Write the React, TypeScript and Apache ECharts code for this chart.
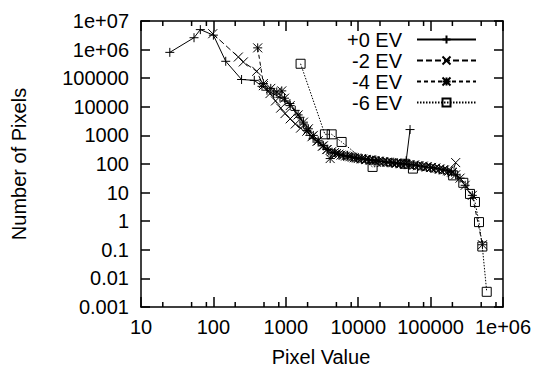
import React, { useEffect, useRef } from "react";
import * as echarts from "echarts";

const seriesNames = ["+0 EV", "-2 EV", "-4 EV", "-6 EV"];

const ev0: [number, number][] = [
  [25, 8.0e5], [54, 2.6e6], [66, 5.0e6], [100, 3.2e6], [148, 3.9e5], [245, 9.0e4], [367, 8.4e4],
  [469, 5.2e4], [550, 3.8e4], [680, 2.8e4], [830, 2.15e4], [980, 1.6e4], [1140, 1.3e4], [1350, 7500],
  [1570, 4300], [1750, 2500], [1950, 1500], [2150, 1000], [2380, 790], [2800, 580], [3270, 450],
  [3800, 330], [4350, 260], [4900, 235], [5600, 210], [6300, 195], [7100, 200], [8000, 175],
  [9000, 170], [10000, 160], [11200, 150], [12500, 155], [14000, 140], [15800, 135], [17500, 138],
  [19500, 125], [22000, 122], [24500, 118], [27500, 112], [31000, 115], [35000, 108], [39000, 104],
  [43000, 100], [46000, 130], [52000, 1600],
];

const evMinus2: [number, number][] = [
  [98, 3.6e6], [221, 5.5e5], [259, 3.7e5], [396, 1.75e5], [490, 5.5e4], [605, 2.9e4], [720, 1.6e4],
  [850, 9000], [975, 5800], [1150, 3800], [1350, 2500], [1600, 1800], [1950, 1400], [2300, 900],
  [2700, 620], [3200, 420], [3700, 320], [4300, 270], [5000, 230], [5800, 205], [6700, 190],
  [7700, 180], [8800, 165], [10000, 155], [11500, 150], [13000, 142], [15000, 135], [17000, 130],
  [19500, 124], [22500, 120], [26000, 114], [30000, 110], [34000, 106], [39000, 102], [45000, 98],
  [52000, 95], [60000, 92], [69000, 88], [79000, 84], [90000, 80], [103000, 76], [118000, 72],
  [135000, 66], [155000, 62], [178000, 56], [200000, 50], [222000, 112],
];

const evMinus4: [number, number][] = [
  [409, 1.15e6], [490, 6.5e4], [620, 4.4e4], [750, 3.3e4], [880, 3.6e4], [960, 2.0e4], [1150, 1.1e4],
  [1480, 5200], [1750, 2900], [2050, 1700], [2400, 1000], [2800, 650], [3300, 430], [3700, 320],
  [4100, 155], [4700, 250], [5400, 220], [6200, 200], [7200, 185], [8300, 172], [9500, 162],
  [11000, 152], [12700, 145], [14500, 138], [16500, 132], [19000, 127], [22000, 121], [25000, 116],
  [29000, 112], [33000, 107], [38000, 103], [44000, 99], [50000, 95], [58000, 91], [66000, 87],
  [76000, 83], [87000, 79], [100000, 75], [115000, 71], [132000, 67], [150000, 63], [172000, 58],
  [195000, 52], [222000, 42], [255000, 32], [300000, 18], [377000, 8], [520000, 0.15],
];

const evMinus6: [number, number][] = [
  [1600, 3.2e5], [3470, 1090], [4300, 1090], [5900, 590], [15800, 79], [44000, 102], [57000, 69],
  [205000, 40], [283000, 22], [350000, 9], [410000, 4.7], [466000, 0.93], [518000, 0.13], [596000, 0.0034],
];

const xTickLabels = ["10", "100", "1000", "10000", "100000", "1e+06"]; // exponents 1..6
const yTickLabels = ["0.001", "0.01", "0.1", "1", "10", "100", "1000", "10000", "100000", "1e+06", "1e+07"]; // exponents -3..7
const xMinorTicks = [20, 50, 80, 200, 500, 800, 2000, 5000, 8000, 20000, 50000, 80000, 200000, 500000, 800000];

const X_MIN = 10;
const X_MAX = 1e6;
const Y_MIN = 0.001;
const Y_MAX = 1e7;

const FONT = "'Liberation Sans', Arial, sans-serif";

const SYM_PLUS = "path://M5,0 L5,10 M0,5 L10,5";
const SYM_CROSS = "path://M0,0 L10,10 M10,0 L0,10";
const SYM_STAR = "path://M5,0 L5,10 M0,5 L10,5 M0,0 L10,10 M10,0 L0,10";
const SYM_SQUARE = "path://M0,0 L10,0 L10,10 L0,10 Z";

export default function App() {
  const ref = useRef<HTMLDivElement>(null);
  useEffect(() => {
    if (!ref.current) return;
    const chart = echarts.init(ref.current, null, { renderer: "svg" });
    const axisLine = { show: true, lineStyle: { color: "#000", width: 1.5 } };
    const xFmt = (v: number) => xTickLabels[Math.round(Math.log10(v)) - 1] ?? "";
    const yFmt = (v: number) => yTickLabels[Math.round(Math.log10(v)) + 3] ?? "";
    const mk = (name: string, data: [number, number][], symbol: string, dash: any, fill: string, z: number) => ({
      name,
      type: "line",
      data,
      symbol,
      symbolSize: 9,
      showSymbol: true,
      showAllSymbol: true,
      z,
      lineStyle: { color: "#000", width: 1, type: dash },
      itemStyle: { color: fill, borderColor: "#000", borderWidth: 1 },
      emphasis: { disabled: true },
    });
    chart.setOption({
      animation: false,
      grid: { left: 141, right: 33, top: 21, bottom: 61, containLabel: false },
      xAxis: [
        {
          type: "log", logBase: 10, min: X_MIN, max: X_MAX, interval: 1, position: "bottom",
          axisLine, axisTick: { inside: true, length: 10, lineStyle: { color: "#000", width: 1.5 } },
          axisLabel: { formatter: xFmt, color: "#000", fontSize: 20, fontFamily: FONT, margin: 10 },
          splitLine: { show: false }, minorTick: { show: false },
        },
        {
          type: "log", logBase: 10, min: X_MIN, max: X_MAX, interval: 1, position: "top",
          axisLine, axisTick: { inside: true, length: 10, lineStyle: { color: "#000", width: 1.5 } },
          axisLabel: { show: false }, splitLine: { show: false },
        },
      ],
      yAxis: [
        {
          type: "log", logBase: 10, min: Y_MIN, max: Y_MAX, interval: 1, position: "left",
          axisLine, axisTick: { inside: true, length: 9, lineStyle: { color: "#000", width: 1.5 } },
          axisLabel: { formatter: yFmt, color: "#000", fontSize: 20, fontFamily: FONT, margin: 12 },
          splitLine: { show: false },
        },
        {
          type: "log", logBase: 10, min: Y_MIN, max: Y_MAX, interval: 1, position: "right",
          axisLine, axisTick: { inside: true, length: 9, lineStyle: { color: "#000", width: 1.5 } },
          axisLabel: { show: false }, splitLine: { show: false },
        },
      ],
      legend: {
        data: seriesNames,
        orient: "vertical",
        right: 59,
        top: 29,
        padding: 0,
        align: "right",
        itemWidth: 59,
        itemHeight: 10,
        itemGap: 0,
        selectedMode: false,
        textStyle: { fontSize: 20, fontFamily: FONT, color: "#000", lineHeight: 21, padding: [0, 10, 0, 0] },
      },
      graphic: [
        {
          type: "text", x: 19, y: 164, rotation: Math.PI / 2,
          style: { text: "Number of Pixels", fontSize: 20, fontFamily: FONT, fill: "#000", align: "center", verticalAlign: "middle" },
        },
        {
          type: "text", x: 321, y: 357,
          style: { text: "Pixel Value", fontSize: 20, fontFamily: FONT, fill: "#000", align: "center", verticalAlign: "middle" },
        },
      ],
      series: [
        mk(seriesNames[0], ev0, SYM_PLUS, "solid", "#000", 2),
        mk(seriesNames[1], evMinus2, SYM_CROSS, [6, 3], "#000", 3),
        mk(seriesNames[2], evMinus4, SYM_STAR, [4, 3], "#000", 4),
        mk(seriesNames[3], evMinus6, SYM_SQUARE, [1.5, 1.5], "none", 5),
        {
          type: "custom",
          name: "minor",
          silent: true,
          clip: false,
          data: xMinorTicks.map((v) => [v, Y_MIN]),
          encode: { x: 0, y: 1 },
          renderItem: (_p: any, api: any) => {
            const v = api.value(0);
            const b = api.coord([v, Y_MIN]);
            const t = api.coord([v, Y_MAX]);
            return {
              type: "group",
              children: [
                { type: "line", shape: { x1: b[0], y1: b[1], x2: b[0], y2: b[1] - 5 }, style: { stroke: "#000", lineWidth: 1.5 } },
                { type: "line", shape: { x1: t[0], y1: t[1], x2: t[0], y2: t[1] + 5 }, style: { stroke: "#000", lineWidth: 1.5 } },
              ],
            };
          },
        },
      ],
    });
    return () => chart.dispose();
  }, []);
  return <div ref={ref} style={{ position: "fixed", left: 0, top: 0, width: 536, height: 368, background: "#fff" }} />;
}
